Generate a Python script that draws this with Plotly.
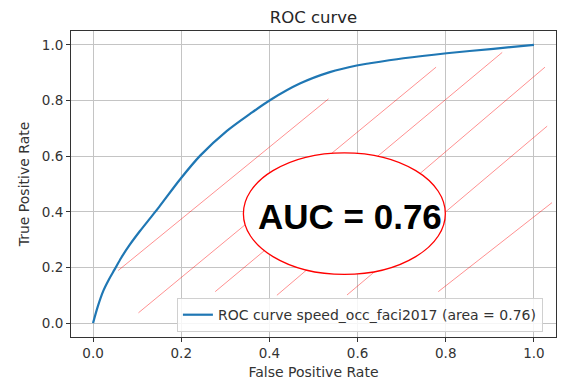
import plotly.graph_objects as go

# ROC curve data
fpr = [0, 0.011, 0.023, 0.036, 0.049, 0.064, 0.083, 0.106, 0.132, 0.150, 0.198, 0.243,
       0.303, 0.356, 0.402, 0.469, 0.537, 0.598, 0.628, 0.704, 0.802, 0.908, 1.0]
tpr = [0, 0.061, 0.115, 0.157, 0.193, 0.235, 0.281, 0.330, 0.382, 0.418, 0.518, 0.602,
       0.690, 0.752, 0.802, 0.861, 0.902, 0.926, 0.934, 0.952, 0.970, 0.986, 1.0]

series_label = "ROC curve speed_occ_faci2017 (area = 0.76)"
auc_text = "AUC = 0.76"
tick_vals = [0.0, 0.2, 0.4, 0.6, 0.8, 1.0]
tick_text = ["0.0", "0.2", "0.4", "0.6", "0.8", "1.0"]

# hand-drawn hatch lines (start x, start y, end x, end y) in data units
hatch_x0 = [0.057, 0.103, 0.277, 0.417, 0.576, 0.783]
hatch_y0 = [0.189, 0.037, 0.113, 0.100, 0.101, 0.113]
hatch_x1 = [0.534, 0.778, 0.928, 1.025, 1.030, 1.041]
hatch_y1 = [0.806, 0.920, 0.973, 0.920, 0.708, 0.433]

# ellipse bounding box in data units
ell_x = [0.341, 0.799]
ell_y = [0.175, 0.612]
auc_pos = [0.583, 0.384]

hx, hy = [], []
for a, b, c, d in zip(hatch_x0, hatch_y0, hatch_x1, hatch_y1):
    hx += [a, c, None]
    hy += [b, d, None]

fig = go.Figure()
fig.add_trace(go.Scatter(x=hx, y=hy, mode="lines", showlegend=False,
                         line=dict(color="rgba(255,0,0,0.55)", width=0.8),
                         hoverinfo="skip"))
fig.add_trace(go.Scatter(x=fpr, y=tpr, mode="lines", name=series_label,
                         line=dict(color="#1f77b4", width=2.2, shape="spline", smoothing=0.9)))

fig.add_shape(type="circle", xref="x", yref="y",
              x0=ell_x[0], x1=ell_x[1], y0=ell_y[0], y1=ell_y[1],
              line=dict(color="red", width=1.3), fillcolor="white", layer="above")
fig.add_annotation(x=auc_pos[0], y=auc_pos[1], xref="x", yref="y", text="<b>" + auc_text + "</b>",
                   showarrow=False, font=dict(family="Liberation Sans", size=35, color="black"))

axis_common = dict(range=[-0.05, 1.05], tickvals=tick_vals, ticktext=tick_text,
                   showline=True, mirror=True, linecolor="#333333", linewidth=1,
                   showgrid=True, gridcolor="#c4c4c4", gridwidth=1, zeroline=False,
                   ticks="outside", ticklen=4, tickcolor="#333333",
                   tickfont=dict(family="DejaVu Sans", size=13.5, color="#333333"))

fig.update_layout(
    width=565, height=385,
    margin=dict(l=71, r=9, t=31, b=48),
    paper_bgcolor="white", plot_bgcolor="white",
    title=dict(text="ROC curve", x=0.5, xref="paper", y=1 - 17 / 385, yref="container",
               yanchor="middle", font=dict(family="DejaVu Sans", size=16.5, color="#262626")),
    xaxis=dict(title=dict(text="False Positive Rate", standoff=6,
                          font=dict(family="DejaVu Sans", size=14, color="#333333")),
               **axis_common),
    yaxis=dict(title=dict(text="True Positive Rate", standoff=8,
                          font=dict(family="DejaVu Sans", size=14, color="#333333")),
               **axis_common),
    legend=dict(x=0.973, y=0.016, xanchor="right", yanchor="bottom",
                bgcolor="rgba(255,255,255,0.85)", bordercolor="#d0d0d0", borderwidth=1,
                font=dict(family="DejaVu Sans", size=14, color="#333333")),
    showlegend=True,
)

fig.write_html("out.html")
